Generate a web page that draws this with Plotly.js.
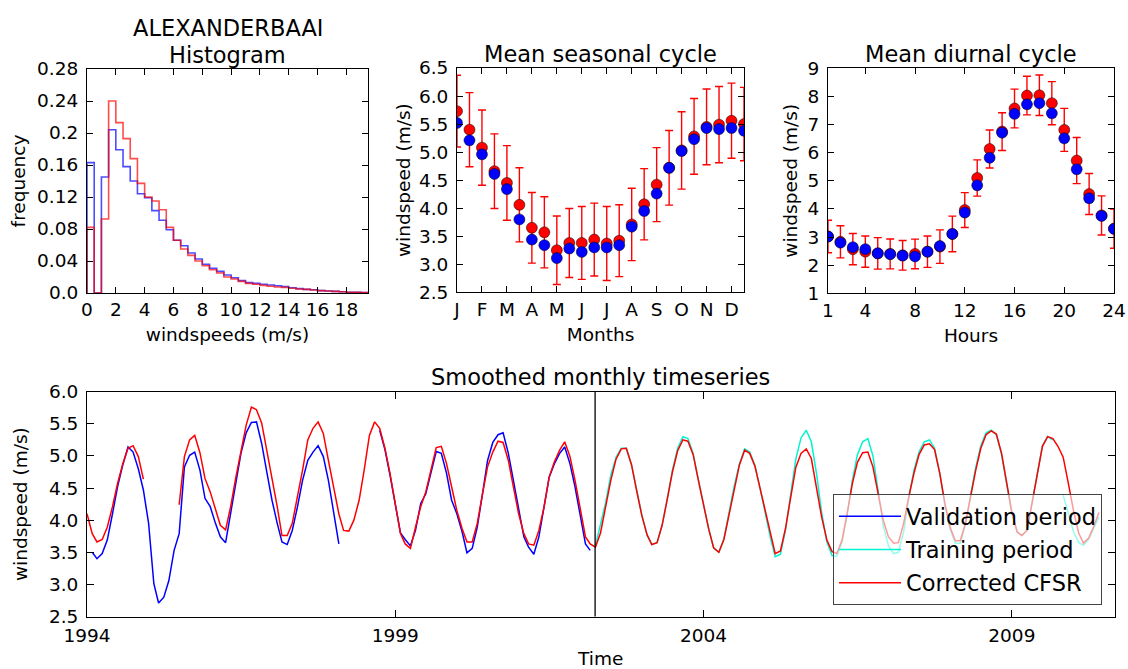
<!DOCTYPE html>
<html>
<head>
<meta charset="utf-8">
<script src="https://cdn.plot.ly/plotly-3.0.1.min.js"></script>
<style>html,body{margin:0;padding:0;background:#fff;}#chart{width:1128px;height:669px;}</style>
</head>
<body>
<div id="chart"></div>
<script>
// ---------------- DATA ----------------
const stationName = 'ALEXANDERBAAI';

// Histogram (bins of 0.5 m/s starting at 0)
const histBinStart = 0;
const histBinWidth = 0.5;
const histObserved = [0.163, 0, 0.145, 0.204, 0.179, 0.158, 0.140, 0.124, 0.119, 0.103, 0.091, 0.079, 0.066, 0.059, 0.050, 0.0425, 0.036, 0.031, 0.027, 0.0225, 0.019, 0.0155, 0.013, 0.012, 0.011, 0.010, 0.009, 0.008, 0.0065, 0.0055, 0.0045, 0.004, 0.003, 0.0025, 0.002, 0.0015, 0.001, 0.0008, 0.0005];
const histCorrected = [0.082, 0, 0.0925, 0.240, 0.213, 0.193, 0.168, 0.137, 0.120, 0.115, 0.104, 0.082, 0.066, 0.055, 0.047, 0.040, 0.034, 0.029, 0.025, 0.020, 0.0175, 0.0145, 0.012, 0.011, 0.0095, 0.0085, 0.0075, 0.007, 0.006, 0.005, 0.0045, 0.0038, 0.003, 0.0025, 0.002, 0.0015, 0.001, 0.0008, 0.0005];
const histYTicks = [0, 0.04, 0.08, 0.12, 0.16, 0.2, 0.24, 0.28];
const histYTickText = ['0.0', '0.04', '0.08', '0.12', '0.16', '0.2', '0.24', '0.28'];

// Mean seasonal cycle (half-month steps, in month units from January)
const monthLabels = ['J', 'F', 'M', 'A', 'M', 'J', 'J', 'A', 'S', 'O', 'N', 'D'];
const seasonalTime = [0, 0.5, 1, 1.5, 2, 2.5, 3, 3.5, 4, 4.5, 5, 5.5, 6, 6.5, 7, 7.5, 8, 8.5, 9, 9.5, 10, 10.5, 11, 11.5];
const seasonalCorrected = [5.73, 5.40, 5.08, 4.66, 4.45, 4.06, 3.65, 3.57, 3.25, 3.38, 3.38, 3.44, 3.37, 3.42, 3.71, 4.07, 4.42, 4.72, 5.03, 5.28, 5.45, 5.49, 5.56, 5.50];
const seasonalObserved = [5.52, 5.21, 4.96, 4.61, 4.34, 3.80, 3.44, 3.34, 3.11, 3.28, 3.22, 3.30, 3.30, 3.34, 3.67, 3.95, 4.26, 4.72, 5.02, 5.23, 5.43, 5.41, 5.43, 5.38];
const seasonalErr = [0.64, 0.66, 0.67, 0.665, 0.665, 0.66, 0.63, 0.635, 0.61, 0.615, 0.65, 0.65, 0.66, 0.64, 0.645, 0.635, 0.66, 0.665, 0.69, 0.675, 0.675, 0.68, 0.67, 0.655];

// Mean diurnal cycle
const hours = [1, 2, 3, 4, 5, 6, 7, 8, 9, 10, 11, 12, 13, 14, 15, 16, 17, 18, 19, 20, 21, 22, 23, 24];
const diurnalCorrected = [3.02, 2.83, 2.57, 2.48, 2.42, 2.40, 2.35, 2.40, 2.48, 2.66, 3.11, 3.96, 5.10, 6.13, 6.75, 7.57, 8.03, 8.04, 7.76, 6.81, 5.72, 4.53, 3.77, 3.30];
const diurnalObserved = [3.02, 2.80, 2.64, 2.57, 2.42, 2.39, 2.34, 2.31, 2.48, 2.68, 3.11, 3.87, 4.84, 5.82, 6.71, 7.38, 7.72, 7.76, 7.40, 6.51, 5.41, 4.38, 3.75, 3.29];
const diurnalErr = [0.58, 0.57, 0.555, 0.555, 0.56, 0.53, 0.525, 0.525, 0.56, 0.595, 0.635, 0.62, 0.645, 0.675, 0.67, 0.69, 0.685, 0.72, 0.765, 0.765, 0.82, 0.73, 0.695, 0.70];

// Smoothed monthly timeseries (monthly values starting January 1994)
const tsStartYear = 1994;
const tsStartMonth = 1;
const validationPeriod = [null,
  3.50, 3.40, 3.48, 3.69, 4.10, 4.52, 4.86, 5.14, 5.06, 4.80, 4.47,
  3.95, 3.01, 2.71, 2.80, 3.06, 3.53, 3.79, 4.83, 5.01, 5.06, 4.78, 4.34,
  4.21, 3.95, 3.74, 3.65, 4.10, 4.60, 5.04, 5.36, 5.52, 5.53, 5.19, 4.75,
  4.31, 3.95, 3.66, 3.62, 3.84, 4.21, 4.62, 4.93, 5.06, 5.16, 4.99, 4.62,
  4.10, 3.63,
  null, null, null, null, null, null, null,
  5.40, 5.10, 4.70, 4.25, 3.80, 3.70, 3.60, 3.84, 4.26,
  4.41, 4.73, 5.07, 5.04, 4.73, 4.31, 4.10, 3.82, 3.49, 3.56, 3.89, 4.41,
  4.93, 5.21, 5.33, 5.36, 5.04, 4.62, 4.15, 3.74, 3.58, 3.47, 3.74, 4.21,
  4.67, 4.88, 5.04, 5.14, 4.88, 4.52, 4.10, 3.63, 3.53];
const trainingStartIndex = 99;
const trainingPeriod = [
  3.60, 3.92, 4.28, 4.70, 4.98, 5.12, 5.12, 4.86, 4.47, 4.08, 3.77, 3.62,
  3.65, 3.92, 4.34, 4.78, 5.12, 5.30, 5.27, 5.04, 4.64, 4.24, 3.87, 3.57,
  3.50, 3.71, 4.12, 4.53, 4.88, 5.11, 5.06, 4.85, 4.50, 4.10, 3.72, 3.43,
  3.47, 3.85, 4.40, 4.95, 5.28, 5.40, 5.22, 4.72, 4.12, 3.66, 3.45, 3.44,
  3.66, 4.08, 4.62, 5.02, 5.22, 5.27, 5.00, 4.45, 3.92, 3.60, 3.48, 3.50,
  3.82, 4.35, 4.78, 5.06, 5.22, 5.25, 5.12, 4.73, 4.24, 3.86, 3.64, 3.64,
  3.94, 4.38, 4.82, 5.16, 5.36, 5.40, 5.33, 5.02, 4.56, 4.10, 3.82, 3.76,
  3.85, 4.28, 4.76, 5.16, 5.30, 5.25, null, 4.39, 4.10, 3.82, 3.65, 3.61,
  3.70, 3.88, 4.05];
const correctedCFSR = [
  4.10, 3.79, 3.66, 3.70, 3.89, 4.21, 4.57, 4.88, 5.12, 5.16, 4.99, 4.64,
  null, null, null, null, null, null,
  4.24, 4.99, 5.25, 5.32, 5.05, 4.65, 4.44, 4.15, 3.92, 3.85, 4.21, 4.67,
  5.08, 5.48, 5.76, 5.72, 5.51, 5.09, 4.67, 4.21, 3.76, 3.76, 3.95, 4.36,
  4.78, 5.25, 5.43, 5.53, 5.35, 4.93, 4.49, 4.10, 3.84, 3.83, 4.00, 4.31,
  4.78, 5.32, 5.53, 5.43, 5.12, 4.73, 4.26, 3.79, 3.63, 3.56, 3.89, 4.21,
  4.44, 4.78, 5.13, 5.15, 4.88, 4.52, 4.15, 3.87, 3.66, 3.66, 3.95, 4.41,
  4.83, 5.06, 5.23, 5.21, 4.93, 4.52, 4.10, 3.79, 3.63, 3.61, 3.84, 4.21,
  4.67, 4.91, 5.09, 5.22, 4.99, 4.62, 4.15, 3.74, 3.63,
  3.58, 3.80, 4.20, 4.62, 4.95, 5.11, 5.12, 4.86, 4.46, 4.07, 3.77, 3.62,
  3.65, 3.92, 4.33, 4.75, 5.08, 5.25, 5.23, 5.02, 4.63, 4.23, 3.86, 3.57,
  3.50, 3.70, 4.10, 4.50, 4.86, 5.09, 5.04, 4.84, 4.50, 4.12, 3.75, 3.48,
  3.52, 3.87, 4.36, 4.82, 5.04, 5.11, 4.96, 4.52, 4.05, 3.69, 3.51, 3.48,
  3.69, 4.10, 4.57, 4.90, 5.05, 5.06, 4.83, 4.41, 4.00, 3.74, 3.64, 3.65,
  3.95, 4.36, 4.73, 5.02, 5.17, 5.19, 5.10, 4.73, 4.26, 3.89, 3.68, 3.68,
  3.95, 4.36, 4.78, 5.12, 5.33, 5.39, 5.34, 5.04, 4.57, 4.12, 3.82, 3.76,
  3.84, 4.26, 4.73, 5.15, 5.30, 5.27, 5.15, 4.98, 4.58, 4.15, 3.80, 3.64,
  3.72, 3.90, 4.12];
const splitDate = '2002-03-30';
const tsRange = ['1994-01-01', '2010-09-01'];
const tsTicks = ['1994-01-01', '1999-01-01', '2004-01-01', '2009-01-01'];
const tsTickText = ['1994', '1999', '2004', '2009'];

// ---------------- HELPERS ----------------
function monthDate(i) {
  const k = tsStartMonth - 1 + i;
  const y = tsStartYear + Math.floor(k / 12);
  const m = (k % 12) + 1;
  return y + '-' + String(m).padStart(2, '0') + '-01';
}
function stepOutline(values) {
  const xs = [histBinStart, histBinStart];
  const ys = [0, values[0]];
  for (let i = 1; i < values.length; i++) { xs.push(histBinStart + i * histBinWidth); ys.push(values[i]); }
  xs.push(histBinStart + values.length * histBinWidth); ys.push(0);
  return {x: xs, y: ys};
}

const FONT = 'DejaVu Sans, Bitstream Vera Sans, sans-serif';
const TICK = 18.5, TITLE = 22.5;
const BLUE = '#0000ff', RED = '#ff0000', CYAN = '#00f5d0';

const W = 1128, H = 669;
const dx = (a, b) => [a / W, b / W];
const dy = (top, bottom) => [1 - bottom / H, 1 - top / H];

function axisBase(extra) {
  return Object.assign({
    showline: true, linecolor: 'black', linewidth: 1, mirror: 'allticks',
    ticks: 'inside', ticklen: 6, tickwidth: 1, tickcolor: 'black',
    showgrid: false, zeroline: false,
    tickfont: {family: FONT, size: TICK, color: 'black'}
  }, extra);
}

// ---------------- TRACES ----------------
const hBlue = stepOutline(histObserved);
const hRed = stepOutline(histCorrected);
const tsDates = correctedCFSR.map((_, i) => monthDate(i));
const MS = 11;

const traces = [
  {x: hBlue.x, y: hBlue.y, type: 'scatter', mode: 'lines', line: {shape: 'hv', color: 'rgba(0,0,255,0.7)', width: 1.6}, xaxis: 'x', yaxis: 'y', showlegend: false, hoverinfo: 'skip'},
  {x: hRed.x, y: hRed.y, type: 'scatter', mode: 'lines', line: {shape: 'hv', color: 'rgba(255,0,0,0.7)', width: 1.6}, xaxis: 'x', yaxis: 'y', showlegend: false, hoverinfo: 'skip'},

  {x: seasonalTime, y: seasonalCorrected, type: 'scatter', mode: 'markers', xaxis: 'x2', yaxis: 'y2', showlegend: false,
    marker: {color: RED, size: MS, line: {color: 'black', width: 0.5}},
    error_y: {type: 'data', array: seasonalErr, visible: true, color: RED, thickness: 1.4, width: 4}},
  {x: seasonalTime, y: seasonalObserved, type: 'scatter', mode: 'markers', xaxis: 'x2', yaxis: 'y2', showlegend: false,
    marker: {color: BLUE, size: MS, line: {color: 'black', width: 0.5}}},

  {x: hours, y: diurnalCorrected, type: 'scatter', mode: 'markers', xaxis: 'x3', yaxis: 'y3', showlegend: false,
    marker: {color: RED, size: MS, line: {color: 'black', width: 0.5}},
    error_y: {type: 'data', array: diurnalErr, visible: true, color: RED, thickness: 1.4, width: 4}},
  {x: hours, y: diurnalObserved, type: 'scatter', mode: 'markers', xaxis: 'x3', yaxis: 'y3', showlegend: false,
    marker: {color: BLUE, size: MS, line: {color: 'black', width: 0.5}}},

  {x: validationPeriod.map((_, i) => monthDate(i)), y: validationPeriod, type: 'scatter', mode: 'lines', name: 'Validation period',
    legendgroup: 'a', line: {color: BLUE, width: 1.5}, xaxis: 'x4', yaxis: 'y4'},
  {x: trainingPeriod.map((_, i) => monthDate(trainingStartIndex + i)), y: trainingPeriod, type: 'scatter', mode: 'lines', name: 'Training period',
    legendgroup: 'b', line: {color: CYAN, width: 1.5}, xaxis: 'x4', yaxis: 'y4'},
  {x: tsDates, y: correctedCFSR, type: 'scatter', mode: 'lines', name: 'Corrected CFSR',
    legendgroup: 'c', line: {color: RED, width: 1.5}, xaxis: 'x4', yaxis: 'y4'}
];

// ---------------- LAYOUT ----------------
const titleFont = {family: FONT, size: TITLE, color: 'black'};
const labelFont = {family: FONT, size: TICK, color: 'black'};

const layout = {
  width: W, height: H,
  margin: {l: 0, r: 0, t: 0, b: 0},
  paper_bgcolor: 'white', plot_bgcolor: 'white',
  font: {family: FONT, color: 'black'},
  showlegend: true,
  legend: {
    x: 1102 / W, xanchor: 'right', y: 1 - 605 / H, yanchor: 'bottom',
    bgcolor: 'rgba(255,255,255,0.6)', bordercolor: '#444', borderwidth: 1,
    font: {family: FONT, size: TITLE, color: 'black'},
    traceorder: 'grouped', tracegroupgap: 1, itemwidth: 62
  },
  xaxis: axisBase({domain: dx(87, 368), anchor: 'y', range: [0, 19.5], tickvals: [0, 2, 4, 6, 8, 10, 12, 14, 16, 18],
    title: {text: 'windspeeds (m/s)', font: labelFont, standoff: 8}}),
  yaxis: axisBase({domain: dy(69, 293), anchor: 'x', range: [0, 0.28], tickvals: histYTicks, ticktext: histYTickText,
    ticklabelstandoff: 4, title: {text: 'frequency', font: labelFont, standoff: 6}}),
  xaxis2: axisBase({domain: dx(457, 744), anchor: 'y2', range: [0, 11.5], tickvals: monthLabels.map((_, i) => i), ticktext: monthLabels,
    title: {text: 'Months', font: labelFont, standoff: 9}}),
  yaxis2: axisBase({domain: dy(68, 292.3), anchor: 'x2', range: [2.5, 6.5], dtick: 0.5, tick0: 2.5, tickformat: '.1f',
    ticklabelstandoff: 4, title: {text: 'windspeed (m/s)', font: labelFont, standoff: 3}}),
  xaxis3: axisBase({domain: dx(828, 1114), anchor: 'y3', range: [1, 24], tickvals: [1, 4, 8, 12, 16, 20, 24],
    title: {text: 'Hours', font: labelFont, standoff: 9}}),
  yaxis3: axisBase({domain: dy(68.3, 293.3), anchor: 'x3', range: [1, 9], dtick: 1, tick0: 1,
    ticklabelstandoff: 4, title: {text: 'windspeed (m/s)', font: labelFont, standoff: 5}}),
  xaxis4: axisBase({domain: dx(87, 1114.5), anchor: 'y4', type: 'date', range: tsRange, tickvals: tsTicks, ticktext: tsTickText, ticklen: 7,
    ticklabelstandoff: 2, title: {text: 'Time', font: labelFont, standoff: 11}}),
  yaxis4: axisBase({domain: dy(391.7, 616.5), anchor: 'x4', range: [2.5, 6.0], dtick: 0.5, tick0: 2.5, tickformat: '.1f', ticklen: 7,
    ticklabelstandoff: 4, title: {text: 'windspeed (m/s)', font: labelFont, standoff: 16}}),
  shapes: [
    {type: 'line', xref: 'x4', yref: 'y4 domain', x0: splitDate, x1: splitDate, y0: 0, y1: 1, line: {color: 'black', width: 1.3}}
  ],
  annotations: [
    {text: stationName, xref: 'paper', yref: 'paper', x: (87 + 368) / 2 / W, y: 1 - 28 / H, xanchor: 'center', yanchor: 'middle', showarrow: false, font: titleFont},
    {text: 'Histogram', xref: 'paper', yref: 'paper', x: (87 + 368) / 2 / W, y: 1 - 55 / H, xanchor: 'center', yanchor: 'middle', showarrow: false, font: titleFont},
    {text: 'Mean seasonal cycle', xref: 'paper', yref: 'paper', x: (457 + 744) / 2 / W, y: 1 - 54 / H, xanchor: 'center', yanchor: 'middle', showarrow: false, font: titleFont},
    {text: 'Mean diurnal cycle', xref: 'paper', yref: 'paper', x: (828 + 1114) / 2 / W, y: 1 - 54 / H, xanchor: 'center', yanchor: 'middle', showarrow: false, font: titleFont},
    {text: 'Smoothed monthly timeseries', xref: 'paper', yref: 'paper', x: (87 + 1114.5) / 2 / W, y: 1 - 377 / H, xanchor: 'center', yanchor: 'middle', showarrow: false, font: titleFont}
  ]
};

Plotly.newPlot('chart', traces, layout, {displayModeBar: false, staticPlot: true});
</script>
</body>
</html>
